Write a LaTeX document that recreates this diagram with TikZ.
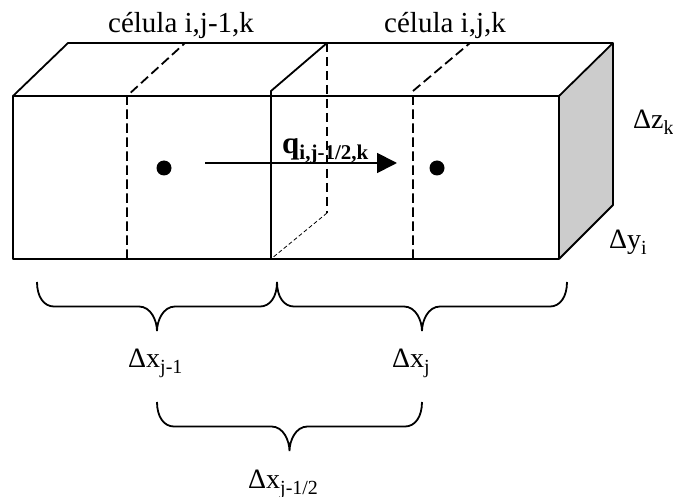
\documentclass[tikz,border=0pt]{standalone}
\usepackage{fontspec}
\setmainfont{Liberation Serif}
\usetikzlibrary{arrows.meta,calc}
\newcommand{\lowtext}[1]{\raisebox{-6pt}{\fontsize{20}{20}\selectfont #1}}
\begin{document}
\begin{tikzpicture}[
  x=1pt, y=-1pt,
  every node/.style={inner sep=0pt, font=\fontsize{28}{28}\selectfont},
  solidline/.style={draw, line width=1.8pt, line join=round},
  dashline/.style={draw, line width=1.8pt, dash pattern=on 9.5pt off 4.5pt},
  thindash/.style={draw, line width=0.8pt, dash pattern=on 4pt off 2.5pt},
  centre/.style={circle, fill=black, minimum size=15pt},
  curly/.style={draw, line width=1.8pt, to path={
    (\tikztostart) .. controls +(0,15) and +(-10,0) .. ($(\tikztostart)+(17,24.5)$)
    -- ($(\tikztostart)!0.5!(\tikztotarget)+(-18,24.5)$)
    .. controls +(12,0) and +(0,-10) .. ($(\tikztostart)!0.5!(\tikztotarget)+(0,49)$)
    .. controls +(0,-10) and +(-12,0) .. ($(\tikztostart)!0.5!(\tikztotarget)+(18,24.5)$)
    -- ($(\tikztotarget)+(-17,24.5)$)
    .. controls +(10,0) and +(0,15) .. (\tikztotarget)}}
]
\useasboundingbox (0,0) rectangle (673,497);
% corners of the block
\coordinate (fronttl) at (13,96);
\coordinate (fronttr) at (559,96);
\coordinate (frontbl) at (13,259);
\coordinate (frontbr) at (559,259);
\coordinate (backtl) at (68,43);
\coordinate (backtr) at (613,43);
\coordinate (backbr) at (613,205);
% cell walls
\coordinate (leftt) at (127,96);
\coordinate (leftb) at (127,259);
\coordinate (leftbk) at (185,43);
\coordinate (midt) at (271,91);
\coordinate (midb) at (271,259);
\coordinate (midbk) at (327,43);
\coordinate (midbb) at (327,213);
\coordinate (rightt) at (413,91);
\coordinate (rightb) at (413,259);
\coordinate (rightbk) at (470,43);

\path[fill=black!20] (fronttr) -- (backtr) -- (backbr) -- (frontbr) -- cycle;
\draw[solidline] (fronttl) rectangle (frontbr);
\draw[solidline] (fronttl) -- (backtl) -- (backtr) -- (backbr) -- (frontbr);
\draw[solidline] (backtr) -- (fronttr);
\draw[solidline] (midb) -- (midt) -- (midbk);
\draw[dashline] (leftb) -- (leftt) -- (leftbk);
\draw[dashline] (rightb) -- (rightt) -- (rightbk);
\draw[dashline] (midbk) -- (midbb);
\draw[thindash] (midbb) -- (midb);

\node[centre] (dotl) at (164,168) {};
\node[centre] (dotr) at (437,168) {};
\coordinate (flowa) at (205,163);
\coordinate (flowb) at (397,163);
\draw[line width=1.8pt, -{Triangle[length=20pt,width=20pt]}] (flowa) -- (flowb);

\node[anchor=base west] (flow) at (282,154) {\fontsize{31}{31}\selectfont\bfseries q\lowtext{\fontsize{21}{21}\selectfont i,j-1/2,k}};
\node[anchor=base] (celll) at (181,33) {\fontsize{29}{29}\selectfont célula i,j-1,k};
\node[anchor=base] (cellr) at (445,33) {\fontsize{29}{29}\selectfont célula i,j,k};
\node[anchor=base west] (dz) at (633,129) {Δz\lowtext{k}};
\node[anchor=base west] (dy) at (609,249) {Δy\lowtext{i}};

% braces under the block
\coordinate (bracea) at (37,282);
\coordinate (braceb) at (277,282);
\coordinate (bracec) at (567,282);
\coordinate (braced) at (157,402);
\coordinate (bracee) at (422,402);
\draw[curly] (bracea) to (braceb);
\draw[curly] (braceb) to (bracec);
\draw[curly] (braced) to (bracee);
\node[anchor=base west] (dxa) at (128,368) {Δx\lowtext{j-1}};
\node[anchor=base west] (dxb) at (392,368) {Δx\lowtext{j}};
\node[anchor=base west] (dxc) at (248,488) {Δx\lowtext{j-1/2}};
\end{tikzpicture}
\end{document}
